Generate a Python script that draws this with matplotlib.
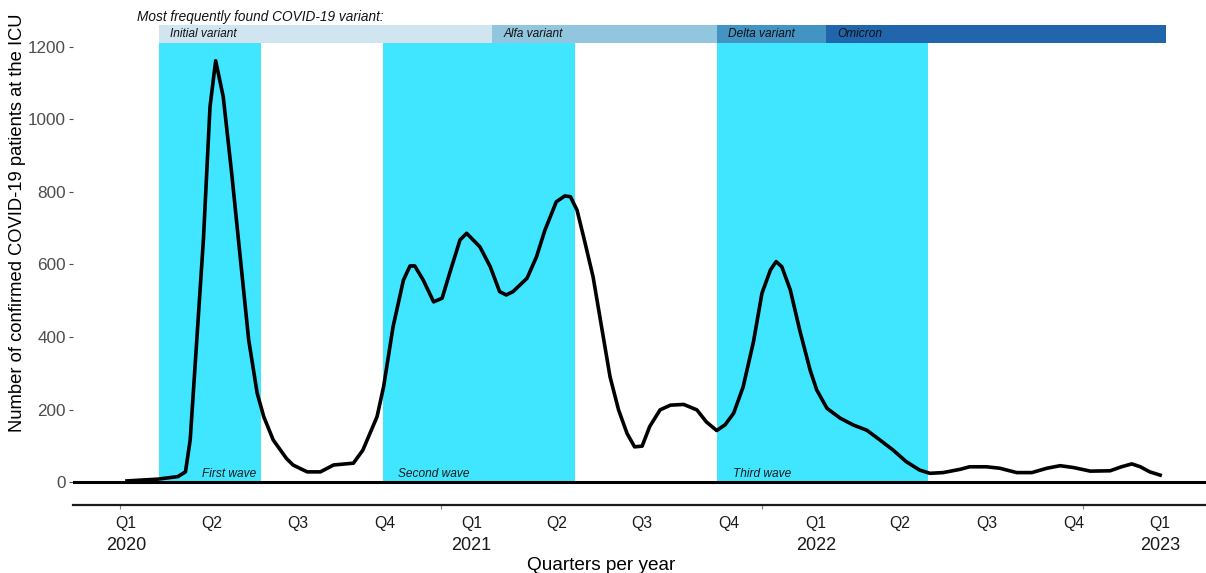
import matplotlib
matplotlib.use("Agg")
import matplotlib.pyplot as plt
import numpy as np

plt.rcParams['font.family'] = ['Liberation Sans', 'DejaVu Sans']

# ---- data (days since 2020-01-01, ICU patients) ----
days = [1, 34, 55, 63, 68, 75, 82, 89, 95, 103, 112, 121, 130, 139, 146, 156, 170, 177,
        184, 192, 206, 220, 241, 251, 266, 273, 283, 294, 301, 306, 315, 326, 335, 343,
        354, 361, 375, 386, 396, 403, 410, 425, 435, 444, 456, 465, 471, 478, 486, 495,
        504, 513, 522, 531, 539, 547, 555, 566, 577, 591, 605, 615, 626, 635, 644, 654,
        665, 674, 683, 689, 695, 704, 714, 725, 732, 743, 757, 771, 785, 799, 813, 827,
        841, 852, 866, 884, 894, 912, 926, 944, 960, 976, 990, 1004, 1022, 1043, 1055,
        1066, 1075, 1085, 1096]
icu = [3, 8, 15, 28, 116, 392, 668, 1035, 1162, 1063, 851, 621, 392, 245, 180, 116, 65, 47,
       38, 28, 28, 47, 52, 88, 180, 263, 428, 557, 596, 596, 557, 497, 507, 576,
       668, 686, 649, 594, 525, 516, 525, 562, 621, 695, 773, 789, 787, 750, 665, 566,
       428, 290, 199, 134, 97, 99, 153, 199, 212, 214, 199, 166, 142, 158, 190, 262,
       387, 521, 585, 608, 594, 530, 419, 309, 254, 203, 176, 157, 143, 116, 88, 56,
       33, 24, 26, 35, 42, 42, 38, 26, 26, 38, 45, 40, 30, 31, 42,
       50, 42, 28, 19]

wave_names = ["First wave", "Second wave", "Third wave"]
wave_start = [35, 272, 626]
wave_end = [143, 476, 850]

variant_names = ["Initial variant", "Alfa variant", "Delta variant", "Omicron"]
variant_start = [35, 388, 626, 742]
variant_end = [388, 626, 742, 1102]
variant_colors = ["#D1E5F0", "#92C5DE", "#4393C3", "#2166AC"]

quarter_days = [0, 91, 182, 274, 366, 456, 547, 639, 731, 820, 912, 1004, 1096]
quarter_labels = ["Q1", "Q2", "Q3", "Q4", "Q1", "Q2", "Q3", "Q4", "Q1", "Q2", "Q3", "Q4", "Q1"]
year_days = [0, 366, 731, 1096]
year_labels = ["2020", "2021", "2022", "2023"]
year_tick_days = [-6, 334, 674, 1014]

yticks = [0, 200, 400, 600, 800, 1000, 1200]

# ---- figure ----
fig = plt.figure(figsize=(12.06, 5.73), dpi=100)
ax = fig.add_axes([73/1206, 68/573, 1 - 73/1206, (505-10)/573])
ax.set_xlim(-56.2, 1144.6)
ax.set_ylim(-63.4, 1302)

wave_color = "#40E6FF"
for s, e in zip(wave_start, wave_end):
    ax.fill_between([s, e], 0, 1211, color=wave_color, lw=0, zorder=1)

wave_label_x = [80.5, 288, 643]
for n, x in zip(wave_names, wave_label_x):
    ax.text(x, 22, n, fontsize=8.6, style='italic', color='#1a1a1a', va='center', ha='left', zorder=4)

for n, s, e, c in zip(variant_names, variant_start, variant_end, variant_colors):
    ax.fill_between([s, e], 1211, 1261, color=c, lw=0, zorder=2)
    ax.text(s + 12, 1236, n, fontsize=8.6, style='italic', color='#111111', va='center', ha='left', zorder=4)

ax.text(12, 1283, "Most frequently found COVID-19 variant:", fontsize=9.8, style='italic',
        color='#111111', va='center', ha='left')

ax.axhline(0, color='black', lw=2.2, zorder=3)
ax.plot(days, icu, color='black', lw=2.6, zorder=5, solid_joinstyle='round')

for sp in ['left', 'top', 'right']:
    ax.spines[sp].set_visible(False)
ax.spines['bottom'].set_linewidth(1.6)
ax.spines['bottom'].set_color('#1a1a1a')

ax.set_yticks(yticks)
ax.set_yticklabels([str(v) for v in yticks])
ax.tick_params(axis='y', length=3, width=0.8, color='#4D4D4D', labelcolor='#4D4D4D',
               labelsize=12.3, pad=2)

ax.set_xticks(quarter_days)
ax.set_xticklabels(quarter_labels)
ax.tick_params(axis='x', which='major', length=0, labelsize=11.3, pad=8, labelcolor='#1a1a1a')
ax.set_xticks(year_tick_days, minor=True)
ax.tick_params(axis='x', which='minor', length=3, width=0.8, color='#7f7f7f')

for d, lab in zip(year_days, year_labels):
    ax.text(d, -63.4 - 40/0.3625, lab, fontsize=13, ha='center', va='center', color='#1a1a1a',
            clip_on=False)

fig.text(601/1206, 1 - 565/573, "Quarters per year", fontsize=13.7, ha='center', va='center')
fig.text(18/1206, 1 - 223/573, "Number of confirmed COVID-19 patients at the ICU", fontsize=13.2,
         rotation=90, ha='center', va='center')

fig.savefig("out.png", dpi=100)
